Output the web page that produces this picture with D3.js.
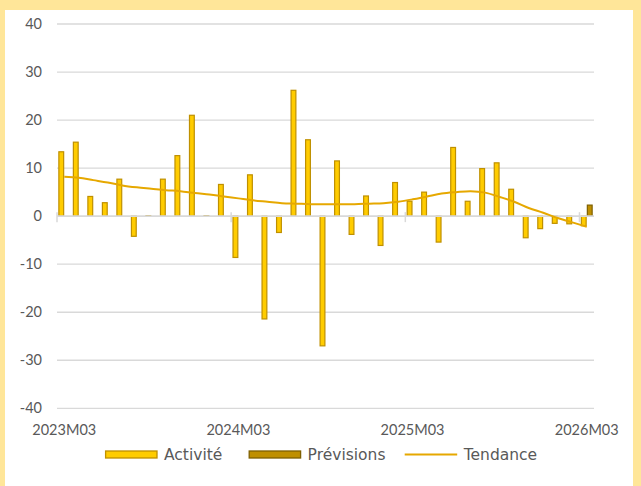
<!DOCTYPE html>
<html>
<head>
<meta charset="utf-8">
<script src="https://cdn.jsdelivr.net/npm/d3@7"></script>
<style>
  html, body { margin: 0; padding: 0; background: #FFE699; }
  svg { display: block; }
</style>
</head>
<body>
<svg id="chart" width="641" height="486"></svg>
<script>
const categories = ["2023M03","2023M04","2023M05","2023M06","2023M07","2023M08","2023M09","2023M10","2023M11","2023M12",
  "2024M01","2024M02","2024M03","2024M04","2024M05","2024M06","2024M07","2024M08","2024M09","2024M10","2024M11","2024M12",
  "2025M01","2025M02","2025M03","2025M04","2025M05","2025M06","2025M07","2025M08","2025M09","2025M10","2025M11","2025M12",
  "2026M01","2026M02","2026M03"];
const activite = [13.4, 15.4, 4.1, 2.8, 7.7, -4.2, 0.1, 7.7, 12.6, 21.0, 0.1, 6.6,
  -8.6, 8.6, -21.4, -3.4, 26.2, 15.9, -27.0, 11.5, -3.8, 4.2, -6.1, 7.0,
  3.1, 5.0, -5.4, 14.3, 3.1, 9.9, 11.1, 5.6, -4.5, -2.6, -1.5, -1.6, -2.0];
const previsions = [null, null, null, null, null, null, null, null, null, null, null, null,
  null, null, null, null, null, null, null, null, null, null, null, null,
  null, null, null, null, null, null, null, null, null, null, null, null, 2.3];
const tendance = [8.2, 8.0, 7.5, 7.0, 6.4, 6.0, 5.7, 5.4, 5.2, 4.8, 4.5, 4.1,
  3.7, 3.3, 3.0, 2.7, 2.6, 2.5, 2.5, 2.5, 2.5, 2.6, 2.7, 3.0,
  3.5, 4.1, 4.7, 5.0, 5.2, 4.9, 4.0, 3.0, 1.7, 0.7, -0.4, -1.3, -2.2];
const yTicks = [-40, -30, -20, -10, 0, 10, 20, 30, 40];
const xTickLabels = ["2023M03", "2024M03", "2025M03", "2026M03"];
const seriesNames = ["Activité", "Prévisions", "Tendance"];

const svg = d3.select("#chart");
const W = 641, H = 486;
const plot = { left: 57, right: 594, top: 24, bottom: 408.3 };

// background panel
svg.append("rect").attr("x", 0).attr("y", 0).attr("width", W).attr("height", H).attr("fill", "#FFE699");
svg.append("rect").attr("x", 5).attr("y", 10).attr("width", 628).attr("height", H - 10).attr("fill", "#FFFFFF");

const x0 = d3.scaleBand().domain(categories).range([plot.left, plot.right]).paddingInner(0).paddingOuter(0);
const x1 = d3.scaleBand().domain(["Activité", "Prévisions"]).range([0, x0.bandwidth()]).paddingInner(0).paddingOuter(0.21);
const y = d3.scaleLinear().domain([-40, 40]).range([plot.bottom, plot.top]);

const textColor = "#595959";
const gridColor = "#D9D9D9";
const axisFont = "Lato, 'Open Sans', sans-serif";

// gridlines
svg.append("g").selectAll("line").data(yTicks.filter(d => d !== 0)).join("line")
  .attr("x1", plot.left).attr("x2", plot.right)
  .attr("y1", d => y(d)).attr("y2", d => y(d))
  .attr("stroke", gridColor).attr("stroke-width", 1.3);

// y labels
svg.append("g").selectAll("text").data(yTicks).join("text")
  .attr("x", 42).attr("y", d => y(d)).attr("dy", "0.35em")
  .attr("text-anchor", "end")
  .attr("font-family", axisFont).attr("font-size", 14.5).attr("fill", textColor)
  .text(d => d);

// bars - Activité
svg.append("g").selectAll("rect").data(activite.map((v, i) => ({ v, c: categories[i] })).filter(d => d.v !== null)).join("rect")
  .attr("x", d => x0(d.c) + x1("Activité") + 0.6)
  .attr("width", x1.bandwidth() - 1.2)
  .attr("y", d => Math.min(y(d.v), y(0)))
  .attr("height", d => Math.abs(y(d.v) - y(0)))
  .attr("fill", "#FFCC00").attr("stroke", "#BF9000").attr("stroke-width", 1.2);

// bars - Prévisions
svg.append("g").selectAll("rect").data(previsions.map((v, i) => ({ v, c: categories[i] })).filter(d => d.v !== null)).join("rect")
  .attr("x", d => x0(d.c) + x1("Prévisions") + 0.6)
  .attr("width", x1.bandwidth() - 1.2)
  .attr("y", d => Math.min(y(d.v), y(0)))
  .attr("height", d => Math.abs(y(d.v) - y(0)))
  .attr("fill", "#BF8F00").attr("stroke", "#7F6000").attr("stroke-width", 1.2);

// zero axis line
svg.append("line").attr("x1", plot.left).attr("x2", plot.right)
  .attr("y1", y(0)).attr("y2", y(0))
  .attr("stroke", gridColor).attr("stroke-width", 1.7);

// tick marks at every 12th category boundary
svg.append("g").selectAll("line").data(xTickLabels).join("line")
  .attr("x1", d => x0(d)).attr("x2", d => x0(d))
  .attr("y1", y(0) - 4).attr("y2", y(0) + 6)
  .attr("stroke", gridColor).attr("stroke-width", 1.5);

// trend line
const line = d3.line()
  .x((d, i) => x0(categories[i]) + x0.bandwidth() / 2)
  .y(d => y(d))
  .curve(d3.curveCatmullRom.alpha(0.5));
svg.append("path").datum(tendance).attr("d", line)
  .attr("fill", "none").attr("stroke", "#E6A800").attr("stroke-width", 2);

// x labels
svg.append("g").selectAll("text").data(xTickLabels).join("text")
  .attr("x", d => x0(d) + x0.bandwidth() / 2).attr("y", 430).attr("dy", "0.35em")
  .attr("text-anchor", "middle")
  .attr("font-family", axisFont).attr("font-size", 14.5).attr("fill", textColor)
  .text(d => d);

// legend
const legendFont = "'DejaVu Sans', sans-serif";
const lg = svg.append("g");
const ly = 454.5;
const items = [
  { name: seriesNames[0], type: "rect", fill: "#FFCC00", stroke: "#BF9000", x: 105 },
  { name: seriesNames[1], type: "rect", fill: "#BF8F00", stroke: "#7F6000", x: 248.6 },
  { name: seriesNames[2], type: "line", stroke: "#E6A800", x: 404.7 }
];
items.forEach(it => {
  if (it.type === "rect") {
    lg.append("rect").attr("x", it.x + 0.6).attr("y", ly - 3.5).attr("width", 51.4).attr("height", 7)
      .attr("fill", it.fill).attr("stroke", it.stroke).attr("stroke-width", 1.3);
  } else {
    lg.append("line").attr("x1", it.x).attr("x2", it.x + 52.5).attr("y1", ly).attr("y2", ly)
      .attr("stroke", it.stroke).attr("stroke-width", 2);
  }
  lg.append("text").attr("x", it.x + 59).attr("y", ly).attr("dy", "0.35em")
    .attr("font-family", legendFont).attr("font-size", 15.5).attr("fill", textColor)
    .text(it.name);
});
</script>
</body>
</html>
